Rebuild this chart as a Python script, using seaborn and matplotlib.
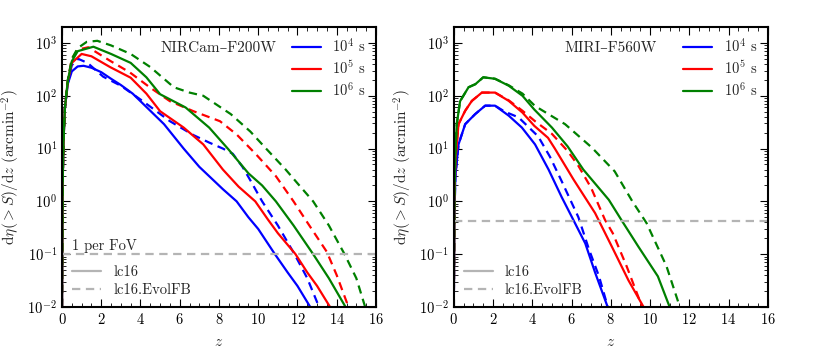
import numpy as np
import pandas as pd
import matplotlib
matplotlib.use("Agg")
import matplotlib.pyplot as plt
import seaborn as sns
from matplotlib.lines import Line2D
from matplotlib.ticker import AutoMinorLocator, LogLocator

# ---- NIRCam-F200W (left panel) ----
nir_z_4_lc = [0, 0.03, 0.08, 0.15, 0.3, 0.5, 0.8, 1.1, 1.5, 2.0, 2.5, 3.0, 3.6, 4.5, 5.2, 6.2, 7.0, 7.5, 8.2, 8.9, 9.5, 10.0, 10.85, 11.5, 12.0, 12.65, 12.9]
nir_v_4_lc = [0.01, 2, 15, 60, 170, 290, 360, 370, 340, 280, 210, 160, 110, 52, 29, 10, 4.5, 3.0, 1.7, 1.0, 0.5, 0.3, 0.1, 0.045, 0.025, 0.01, 0.007]
nir_z_4_fb = [0, 0.03, 0.08, 0.15, 0.3, 0.5, 0.83, 1.3, 2.1, 3.0, 4.1, 5.5, 6.7, 7.5, 8.2, 8.7, 9.2, 9.6, 10.2, 11.0, 11.85, 12.5, 13.1, 13.3]
nir_v_4_fb = [0.01, 2, 15, 60, 180, 380, 500, 420, 230, 155, 80, 33, 18, 13, 10, 8, 4.5, 2.5, 1.0, 0.35, 0.1, 0.035, 0.01, 0.007]
nir_z_5_lc = [0, 0.03, 0.08, 0.15, 0.3, 0.5, 1.0, 1.5, 2.45, 3.5, 4.3, 5.0, 6.2, 7.2, 8.2, 9.0, 9.85, 10.5, 11.0, 11.9, 12.5, 13.0, 13.66, 13.8]
nir_v_5_lc = [0.01, 2, 15, 60, 190, 420, 620, 560, 350, 220, 110, 51, 25, 12, 4.0, 1.9, 1.0, 0.45, 0.25, 0.1, 0.045, 0.025, 0.01, 0.008]
nir_z_5_fb = [0, 0.03, 0.08, 0.15, 0.3, 0.5, 0.8, 1.34, 2.45, 3.47, 4.48, 5.5, 6.7, 8.05, 8.9, 9.9, 10.9, 11.8, 12.5, 13.5, 14.0, 14.6, 14.8]
nir_v_5_fb = [0.01, 2, 15, 60, 200, 500, 750, 830, 460, 275, 144, 79, 51, 33, 18.5, 7.7, 3.0, 1.0, 0.4, 0.11, 0.04, 0.01, 0.007]
nir_z_6_lc = [0, 0.03, 0.08, 0.15, 0.3, 0.5, 0.8, 1.6, 2.5, 3.5, 4.3, 5.0, 6.3, 7.5, 8.5, 9.5, 10.2, 10.9, 11.8, 12.8, 13.6, 14.45, 14.6]
nir_v_6_lc = [0.01, 2, 15, 60, 200, 450, 700, 850, 620, 420, 224, 107, 60, 25, 9.5, 3.4, 2.0, 1.0, 0.35, 0.1, 0.035, 0.01, 0.008]
nir_z_6_fb = [0, 0.03, 0.08, 0.15, 0.3, 0.5, 0.8, 1.26, 1.8, 2.5, 3.5, 4.5, 5.7, 6.5, 7.2, 8.6, 9.6, 10.4, 11.4, 12.0, 12.8, 13.6, 14.4, 15.0, 15.45, 15.6]
nir_v_6_fb = [0.01, 2, 15, 60, 200, 500, 800, 1050, 1100, 900, 620, 350, 145, 115, 100, 45, 21, 10, 4.0, 2.2, 1.0, 0.35, 0.1, 0.035, 0.01, 0.008]

# ---- MIRI-F560W (right panel) ----
miri_z_4_lc = [0, 0.03, 0.08, 0.24, 0.58, 1.09, 1.6, 2.1, 2.8, 3.47, 4.14, 4.83, 5.5, 6.0, 6.7, 7.2, 7.8, 7.9]
miri_v_4_lc = [0.01, 0.5, 3, 12, 29, 45, 65, 65, 42, 25, 12, 4.0, 1.2, 0.52, 0.16, 0.045, 0.011, 0.008]
miri_z_4_fb = [0, 0.03, 0.08, 0.24, 0.58, 1.09, 1.6, 2.1, 2.6, 3.3, 4.3, 4.9, 5.5, 6.35, 6.9, 7.4, 7.85, 7.95]
miri_v_4_fb = [0.01, 0.5, 3, 12, 29, 45, 65, 65, 50, 39, 17, 7, 2.4, 0.5, 0.12, 0.038, 0.01, 0.008]
miri_z_5_lc = [0, 0.03, 0.08, 0.24, 0.58, 0.92, 1.43, 2.1, 2.8, 3.5, 4.1, 4.8, 5.15, 6.1, 7.2, 8.05, 8.9, 9.67, 9.8]
miri_v_5_lc = [0.01, 1, 6, 29, 52, 80, 115, 115, 80, 48, 27, 16, 10, 2.6, 0.6, 0.14, 0.032, 0.01, 0.008]
miri_z_5_fb = [0, 0.03, 0.08, 0.24, 0.58, 0.92, 1.43, 2.1, 2.8, 3.5, 4.14, 5.0, 5.8, 6.35, 7.0, 7.7, 8.1, 8.8, 9.6, 9.8]
miri_v_5_fb = [0.01, 1, 6, 29, 52, 80, 115, 115, 82, 52, 33, 19, 9, 4.7, 1.8, 0.45, 0.25, 0.06, 0.01, 0.007]
miri_z_6_lc = [0, 0.03, 0.08, 0.15, 0.32, 0.75, 1.1, 1.5, 2.1, 2.8, 3.5, 4.1, 5.0, 5.8, 6.6, 7.9, 8.6, 9.4, 10.4, 11.0, 11.2]
miri_v_6_lc = [0.01, 1.5, 8, 29, 79, 145, 166, 224, 210, 155, 100, 55, 25, 11, 4.0, 1.07, 0.41, 0.14, 0.038, 0.01, 0.007]
miri_z_6_fb = [0, 0.03, 0.08, 0.15, 0.32, 0.75, 1.1, 1.5, 2.1, 2.8, 3.5, 4.14, 5.67, 7.03, 8.2, 9.1, 9.82, 10.84, 11.52, 11.7]
miri_v_6_fb = [0.01, 1.5, 8, 29, 79, 145, 166, 224, 210, 158, 110, 64, 29, 10.5, 3.7, 1.0, 0.39, 0.059, 0.01, 0.007]

exposures = ["$10^4$ s", "$10^5$ s", "$10^6$ s"]
exp_colors = ["#0000ff", "#ff0000", "#008000"]
models = ["lc16", "lc16.EvolFB"]
panel_names = ["NIRCam\u2013F200W", "MIRI\u2013F560W"]
fov_level = [0.1, 0.43]

panels = [
    [(nir_z_4_lc, nir_v_4_lc), (nir_z_4_fb, nir_v_4_fb),
     (nir_z_5_lc, nir_v_5_lc), (nir_z_5_fb, nir_v_5_fb),
     (nir_z_6_lc, nir_v_6_lc), (nir_z_6_fb, nir_v_6_fb)],
    [(miri_z_4_lc, miri_v_4_lc), (miri_z_4_fb, miri_v_4_fb),
     (miri_z_5_lc, miri_v_5_lc), (miri_z_5_fb, miri_v_5_fb),
     (miri_z_6_lc, miri_v_6_lc), (miri_z_6_fb, miri_v_6_fb)],
]

sns.set_style("ticks")
plt.rcParams.update({
    "font.family": ["cmr10", "DejaVu Serif"],
    "mathtext.fontset": "cm",
    "axes.formatter.use_mathtext": True,
    "font.size": 10,
    "axes.linewidth": 1.5,
    "axes.edgecolor": "black",
    "xtick.direction": "in",
    "ytick.direction": "in",
    "xtick.top": True,
    "ytick.right": True,
    "xtick.major.size": 6,
    "ytick.major.size": 6,
    "xtick.minor.size": 3,
    "ytick.minor.size": 3,
    "xtick.color": "black",
    "ytick.color": "black",
    "lines.scale_dashes": False,
})

dash = (0, (6, 4))
fig, axes = plt.subplots(1, 2, figsize=(8.3, 3.52), dpi=100)
fig.subplots_adjust(left=0.0747, right=0.925, top=0.923, bottom=0.128, wspace=0.248)

for p, ax in enumerate(axes):
    for k, (zz, vv) in enumerate(panels[p]):
        df = pd.DataFrame({"z": zz, "v": vv})
        sns.lineplot(data=df, x="z", y="v", ax=ax, color=exp_colors[k // 2],
                     linestyle="-" if k % 2 == 0 else dash, lw=1.6,
                     estimator=None, sort=False)
    ax.axhline(fov_level[p], color="#b4b4b4", linestyle=dash, lw=1.6)
    ax.set_yscale("log")
    ax.set_xlim(0, 16)
    ax.set_ylim(1e-2, 2e3)
    ax.set_xticks(np.arange(0, 17, 2))
    ax.xaxis.set_minor_locator(AutoMinorLocator(4))
    ax.yaxis.set_major_locator(LogLocator(base=10, numticks=10))
    ax.yaxis.set_minor_locator(LogLocator(base=10, subs=np.arange(2, 10), numticks=20))
    ax.tick_params(which="both", top=True, right=True, labelsize=10.5)
    ax.set_xlabel("$z$", fontsize=11, labelpad=6)
    ax.set_ylabel(r"$\mathrm{d}\eta(>S)/\mathrm{d}z\ (\mathrm{arcmin}^{-2})$", fontsize=11)
    ax.text(0.5, 0.925, panel_names[p], transform=ax.transAxes, ha="center",
            va="center", fontsize=11)

    h1 = [Line2D([], [], color=c, lw=1.6) for c in exp_colors]
    leg1 = ax.legend(h1, exposures, loc="upper right", frameon=False, fontsize=10.5,
                     handlelength=2.0, borderaxespad=0.3, labelspacing=0.3)
    ax.add_artist(leg1)
    h2 = [Line2D([], [], color="#b4b4b4", lw=1.6),
          Line2D([], [], color="#b4b4b4", lw=1.6, linestyle=dash)]
    ax.legend(h2, models, loc="lower left", frameon=False, fontsize=10.5,
              handlelength=2.0, borderaxespad=0.3, labelspacing=0.3)

axes[0].text(0.5, 0.105, "1 per FoV", ha="left", va="bottom", fontsize=10.5)

fig.savefig("out.png", dpi=100)
